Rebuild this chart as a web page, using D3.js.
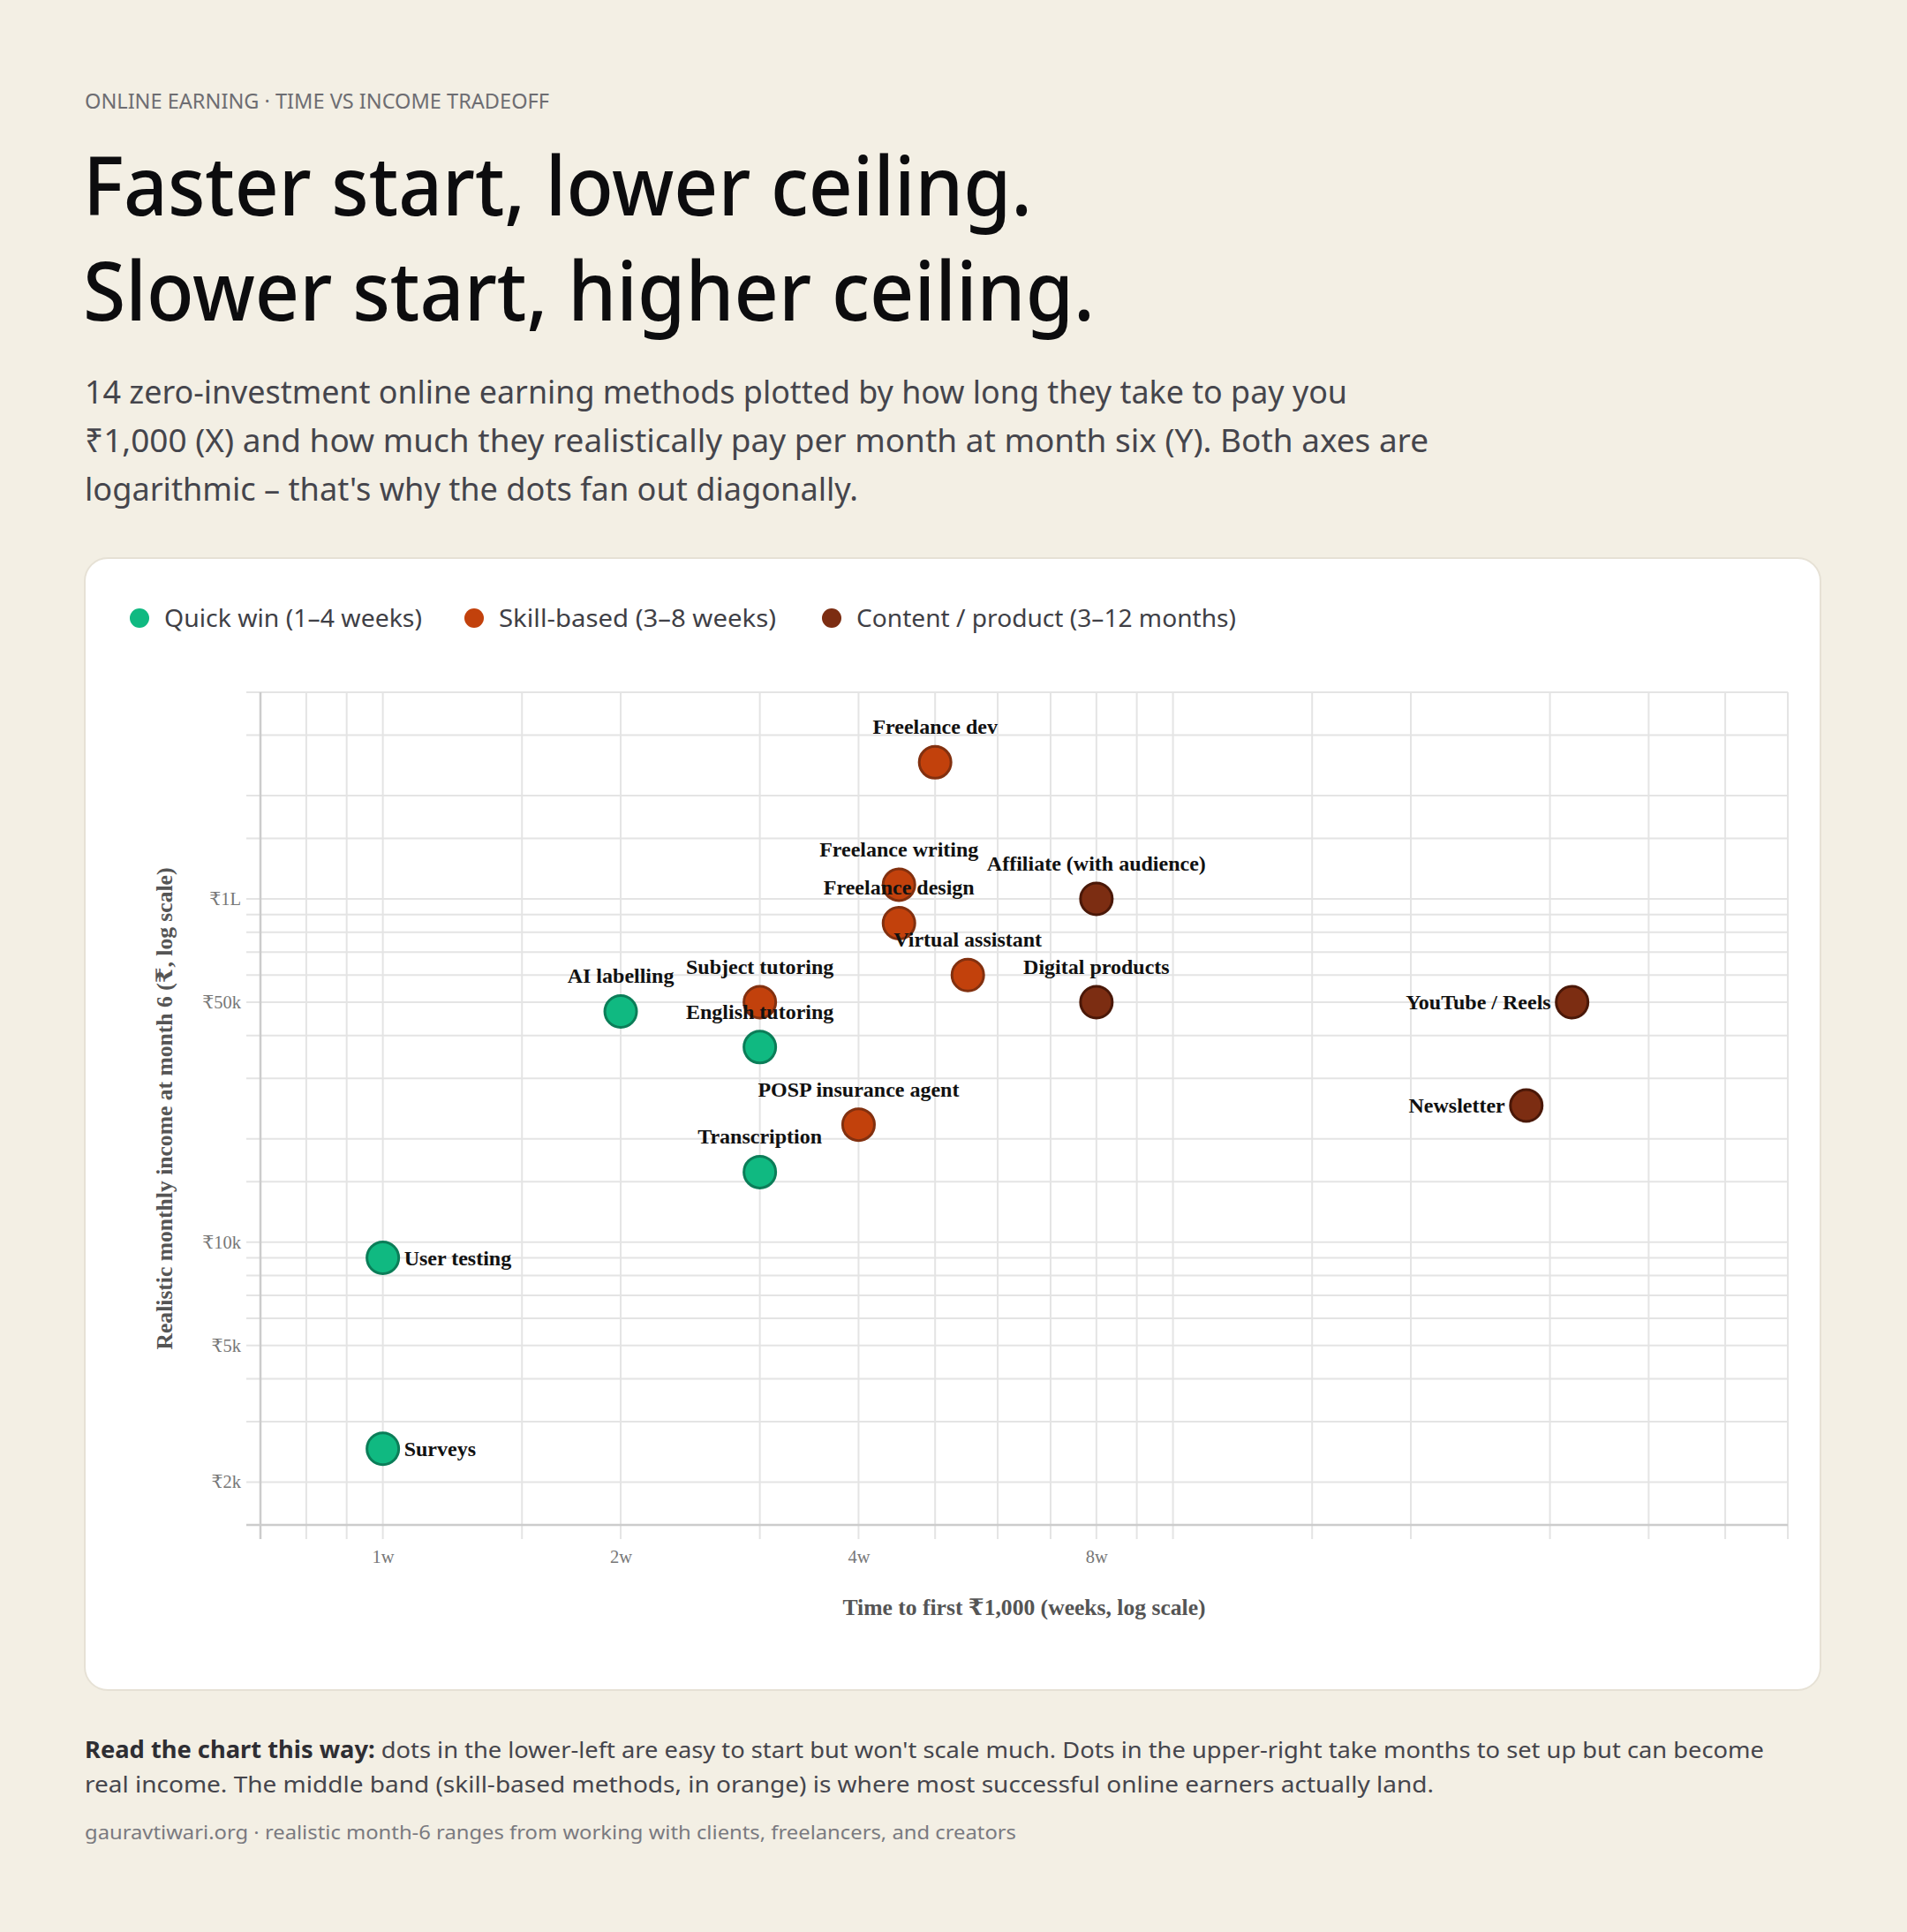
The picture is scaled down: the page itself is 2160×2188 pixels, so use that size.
<!DOCTYPE html>
<html><head><meta charset="utf-8">
<script src="https://cdn.jsdelivr.net/npm/d3@7"></script>
<style>html,body{margin:0;padding:0;background:#f3efe4;} svg{display:block}</style>
</head><body>
<script>
// ---------- data ----------
const categories = ["quick", "skill", "content"];
const categoryLabels = ["Quick win (1–4 weeks)", "Skill-based (3–8 weeks)", "Content / product (3–12 months)"];
const categoryColors = ["#10b981", "#c2410c", "#7c2d12"];
const categoryStrokes = ["#0b7d58", "#82300f", "#4a1808"];

const methods = ["Surveys", "User testing", "AI labelling", "English tutoring", "Transcription",
  "Subject tutoring", "POSP insurance agent", "Freelance writing", "Freelance design", "Freelance dev",
  "Virtual assistant", "Affiliate (with audience)", "Digital products", "YouTube / Reels", "Newsletter"];
const methodWeeks = [1, 1, 2, 3, 3, 3, 4, 4.5, 4.5, 5, 5.5, 8, 8, 32, 28];
const methodIncome = [2500, 9000, 47000, 37000, 16000, 50000, 22000, 110000, 85000, 250000, 60000, 100000, 50000, 50000, 25000];
const methodCategory = ["quick", "quick", "quick", "quick", "quick", "skill", "skill", "skill", "skill", "skill", "skill", "content", "content", "content", "content"];
const labelSide = ["right", "right", "above", "above", "above", "above", "above", "above", "above", "above", "above", "above", "above", "left", "left"];

const xDomain = [0.7, 60];
const yDomain = [1500, 400000];
const xTickValues = [1, 2, 4, 8];
const xTickLabels = ["1w", "2w", "4w", "8w"];
const yTickValues = [2000, 5000, 10000, 50000, 100000];
const yTickLabels = ["₹2k", "₹5k", "₹10k", "₹50k", "₹1L"];
const extraGridX = [1.5, 15];
const extraGridY = [1500, 15000, 150000];

const eyebrow = "ONLINE EARNING · TIME VS INCOME TRADEOFF";
const titleLines = ["Faster start, lower ceiling.", "Slower start, higher ceiling."];
const descLines = [
  "14 zero-investment online earning methods plotted by how long they take to pay you",
  "₹1,000 (X) and how much they realistically pay per month at month six (Y). Both axes are",
  "logarithmic – that's why the dots fan out diagonally."
];
const noteLead = "Read the chart this way:";
const noteLines = [
  " dots in the lower-left are easy to start but won't scale much. Dots in the upper-right take months to set up but can become",
  "real income. The middle band (skill-based methods, in orange) is where most successful online earners actually land."
];
const sourceText = "gauravtiwari.org · realistic month-6 ranges from working with clients, freelancers, and creators";
const xTitle = "Time to first ₹1,000 (weeks, log scale)";
const yTitle = "Realistic monthly income at month 6 (₹, log scale)";

// ---------- layout ----------
const W = 2160, H = 2188;
const SANS = "'Noto Sans', 'Open Sans', sans-serif";
const SERIF = "'Liberation Serif', 'Times New Roman', 'DejaVu Serif', serif";
const plot = {left: 295, right: 2025, top: 784, bottom: 1727};
const tickExt = 16;

const svg = d3.select("body").append("svg").attr("width", W).attr("height", H);
svg.append("rect").attr("width", W).attr("height", H).attr("fill", "#f3efe4");

function txt(g, s, x, y, o) {
  const t = g.append("text").attr("x", x).attr("y", y).text(s)
    .attr("font-family", o.family || SANS).attr("font-size", o.size)
    .attr("font-weight", o.weight || 400).attr("fill", o.fill || "#000");
  if (o.len) t.attr("textLength", o.len).attr("lengthAdjust", "spacingAndGlyphs");
  if (o.anchor) t.attr("text-anchor", o.anchor);
  return t;
}

// header
txt(svg, eyebrow, 96, 123, {size: 23, fill: "#6d6d72", len: 526});
txt(svg, titleLines[0], 94, 244, {size: 92, weight: 500, fill: "#0c0c0e", len: 1075});
txt(svg, titleLines[1], 94, 363, {size: 92, weight: 500, fill: "#0c0c0e", len: 1146});
const descY = [457, 512, 567], descLen = [1430, 1522, 876];
descLines.forEach((l, i) => txt(svg, l, 96, descY[i], {size: 36, fill: "#45454c", len: descLen[i]}));

// card
svg.append("rect").attr("x", 96).attr("y", 632).attr("width", 1966).attr("height", 1282)
  .attr("rx", 26).attr("fill", "#ffffff").attr("stroke", "#e6e1d5").attr("stroke-width", 2);

// legend
const legX = [158, 537, 942], legLen = [292, 314, 430];
categories.forEach((c, i) => {
  svg.append("circle").attr("cx", legX[i]).attr("cy", 700).attr("r", 11).attr("fill", categoryColors[i]);
  txt(svg, categoryLabels[i], legX[i] + 28, 710, {size: 28, fill: "#3f3f46", len: legLen[i]});
});

// scales
const x = d3.scaleLog().domain(xDomain).range([plot.left, plot.right]);
const y = d3.scaleLog().domain(yDomain).range([plot.bottom, plot.top]);

const gridX = x.ticks().concat(extraGridX);
const gridY = y.ticks().concat(extraGridY);

const grid = svg.append("g");
grid.selectAll("line.gx").data(gridX).join("line").attr("class", "gx")
  .attr("x1", d => x(d)).attr("x2", d => x(d))
  .attr("y1", plot.top).attr("y2", plot.bottom + tickExt)
  .attr("stroke", "#e4e4e4").attr("stroke-width", 2);
grid.selectAll("line.gy").data(gridY).join("line").attr("class", "gy")
  .attr("y1", d => y(d)).attr("y2", d => y(d))
  .attr("x1", plot.left - tickExt).attr("x2", plot.right)
  .attr("stroke", "#e4e4e4").attr("stroke-width", 2);

// domain lines
svg.append("line").attr("x1", plot.left).attr("x2", plot.left).attr("y1", plot.top).attr("y2", plot.bottom + tickExt)
  .attr("stroke", "#cccccc").attr("stroke-width", 2.5);
svg.append("line").attr("x1", plot.left - tickExt).attr("x2", plot.right).attr("y1", plot.bottom).attr("y2", plot.bottom)
  .attr("stroke", "#cccccc").attr("stroke-width", 2.5);

// axes
const xAxis = svg.append("g").attr("transform", `translate(0,${plot.bottom})`)
  .call(d3.axisBottom(x).tickValues(xTickValues).tickFormat((d, i) => xTickLabels[i]).tickSize(0).tickPadding(28));
const yAxis = svg.append("g").attr("transform", `translate(${plot.left},0)`)
  .call(d3.axisLeft(y).tickValues(yTickValues).tickFormat((d, i) => yTickLabels[i]).tickSize(0).tickPadding(22));
[xAxis, yAxis].forEach(a => {
  a.select(".domain").remove();
  a.selectAll("text").attr("font-family", SERIF).attr("font-size", 20.5).attr("fill", "#777777");
});

// axis titles
txt(svg, xTitle, (plot.left + plot.right) / 2, 1829, {family: SERIF, size: 25.6, weight: 700, fill: "#555555", anchor: "middle"});
txt(svg, yTitle, 0, 0, {family: SERIF, size: 25.6, weight: 700, fill: "#555555", anchor: "middle"})
  .attr("transform", `translate(195,${(plot.top + plot.bottom) / 2}) rotate(-90)`);

// points
const idx = d3.range(methods.length);
const catIndex = i => categories.indexOf(methodCategory[i]);
svg.append("g").selectAll("circle").data(idx).join("circle")
  .attr("cx", i => x(methodWeeks[i])).attr("cy", i => y(methodIncome[i])).attr("r", 18)
  .attr("fill", i => categoryColors[catIndex(i)])
  .attr("stroke", i => categoryStrokes[catIndex(i)]).attr("stroke-width", 3);

// labels
svg.append("g").selectAll("text").data(idx).join("text")
  .attr("x", i => x(methodWeeks[i]) + (labelSide[i] === "right" ? 24 : labelSide[i] === "left" ? -24 : 0))
  .attr("y", i => y(methodIncome[i]) + (labelSide[i] === "above" ? -32 : 8))
  .attr("text-anchor", i => labelSide[i] === "right" ? "start" : labelSide[i] === "left" ? "end" : "middle")
  .attr("font-family", SERIF).attr("font-size", 24).attr("font-weight", 700).attr("fill", "#111111")
  .text(i => methods[i]);

// notes
const note = svg.append("text").attr("x", 96).attr("y", 1991).attr("font-family", SANS).attr("font-size", 26)
  .attr("fill", "#45454c").attr("textLength", 1902).attr("lengthAdjust", "spacingAndGlyphs");
note.append("tspan").attr("font-weight", 700).attr("fill", "#2e2e33").text(noteLead);
note.append("tspan").text(noteLines[0]);
txt(svg, noteLines[1], 96, 2030, {size: 26, fill: "#45454c", len: 1528});
txt(svg, sourceText, 96, 2083, {size: 22, fill: "#7a7a80", len: 1055});
</script>
</body></html>
